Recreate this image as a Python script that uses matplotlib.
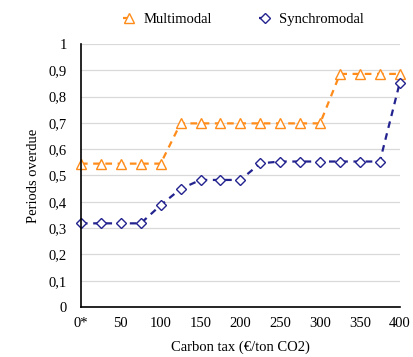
import matplotlib.pyplot as plt

# carbon tax levels (EUR/ton CO2)
tax = [0, 25, 50, 75, 100, 125, 150, 175, 200, 225, 250, 275, 300, 325, 350, 375, 400]

# share of periods overdue per scenario
multimodal = [0.545, 0.545, 0.545, 0.545, 0.545, 0.698, 0.698, 0.698, 0.698,
              0.698, 0.698, 0.698, 0.698, 0.886, 0.886, 0.886, 0.886]
synchromodal = [0.318, 0.318, 0.318, 0.318, 0.387, 0.449, 0.483, 0.483, 0.483,
                0.546, 0.553, 0.553, 0.553, 0.553, 0.553, 0.553, 0.853]

xticks = [0, 50, 100, 150, 200, 250, 300, 350, 400]
xlabels = ["0*", "50", "100", "150", "200", "250", "300", "350", "400"]
yticks = [0, 0.1, 0.2, 0.3, 0.4, 0.5, 0.6, 0.7, 0.8, 0.9, 1]
ylabels = ["0", "0,1", "0,2", "0,3", "0,4", "0,5", "0,6", "0,7", "0,8", "0,9", "1"]

plt.rcParams['font.family'] = ['Liberation Serif', 'DejaVu Serif']
plt.rcParams['font.size'] = 10.5

fig = plt.figure(figsize=(4.13, 3.57), dpi=100)
ax = fig.add_axes([0.196, 0.140, 0.772, 0.737])

ax.plot(tax, multimodal, color='#FF8C1A', linestyle=(0, (3, 2.5)), linewidth=1.6,
        marker='^', markersize=6.5, markerfacecolor='white',
        markeredgewidth=1.0, label='Multimodal', clip_on=False)
ax.plot(tax, synchromodal, color='#232390', linestyle=(0, (3, 2.5)), linewidth=1.6,
        marker='D', markersize=5.5, markerfacecolor='white',
        markeredgewidth=1.0, label='Synchromodal', clip_on=False)

ax.set_xlim(0, 400)
ax.set_ylim(0, 1)
ax.set_xticks(xticks)
ax.set_xticklabels(xlabels)
ax.set_yticks(yticks)
ax.set_yticklabels(ylabels)
ax.tick_params(axis='y', length=0, pad=10)
ax.tick_params(axis='x', length=0, pad=7)

ax.grid(axis='y', color='#d9d9d9', linewidth=0.9)
ax.set_axisbelow(True)
for side in ['top', 'right']:
    ax.spines[side].set_visible(False)
for side in ['left', 'bottom']:
    ax.spines[side].set_color('black')
    ax.spines[side].set_linewidth(1.2)

ax.set_xlabel("Carbon tax (€/ton CO2)", labelpad=8)
ax.set_ylabel("Periods overdue", labelpad=6)

ax.legend(loc='lower center', bbox_to_anchor=(0.51, 1.045), ncol=2, frameon=False,
          handlelength=0.8, columnspacing=3.2, handletextpad=0.6,
          borderaxespad=0)

fig.savefig("out.png", dpi=100)
